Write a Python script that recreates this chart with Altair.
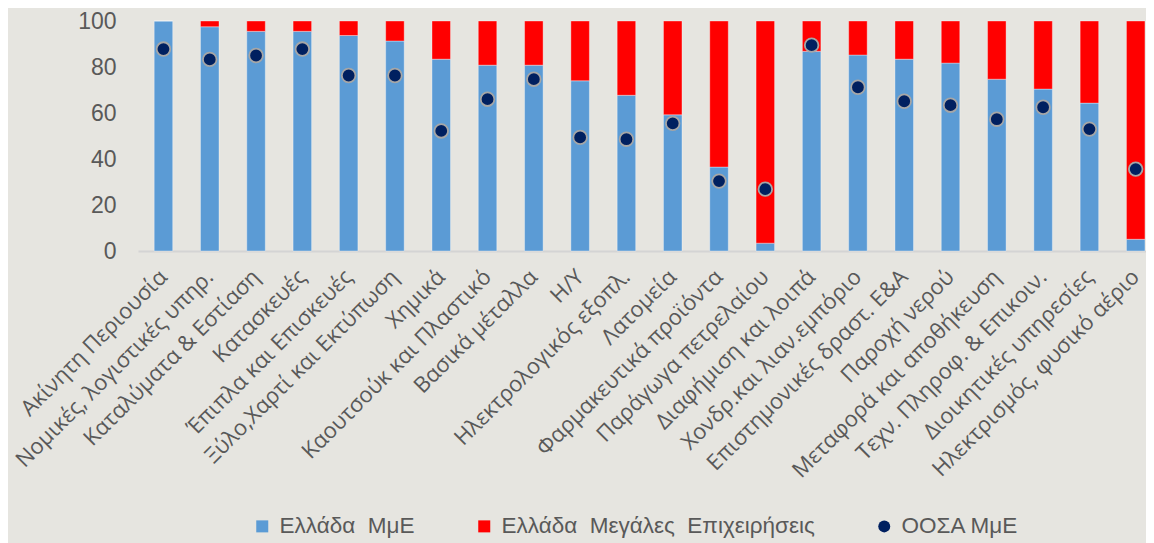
import altair as alt
import pandas as pd

categories = [
    "Ακίνητη Περιουσία",
    "Νομικές, λογιστικές υπηρ.",
    "Καταλύματα & Εστίαση",
    "Κατασκευές",
    "Έπιπλα  και Επισκευές",
    "Ξύλο,Χαρτί και Εκτύπωση",
    "Χημικά",
    "Καουτσούκ και Πλαστικό",
    "Βασικά μέταλλα",
    "Η/Υ",
    "Ηλεκτρολογικός εξοπλ.",
    "Λατομεία",
    "Φαρμακευτικά προϊόντα",
    "Παράγωγα  πετρελαίου",
    "Διαφήμιση και λοιπά",
    "Χονδρ.και λιαν.εμπόριο",
    "Επιστημονικές δραστ.  Ε&Α",
    "Παροχή νερού",
    "Μεταφορά  και αποθήκευση",
    "Τεχν.  Πληροφ. & Επικοιν.",
    "Διοικητικές υπηρεσίες",
    "Ηλεκτρισμός, φυσικό αέριο",
]

greece_sme = [100, 97.5, 95.5, 95.5, 93.7, 91.3, 83.4, 80.8, 80.8, 74.0, 67.7,
              59.2, 36.5, 3.4, 86.8, 85.2, 83.4, 81.7, 74.7, 70.4, 64.3, 5.1]
greece_large = [0, 2.5, 4.5, 4.5, 6.3, 8.7, 16.6, 19.2, 19.2, 26.0, 32.3,
                40.8, 63.5, 96.6, 13.2, 14.8, 16.6, 18.3, 25.3, 29.6, 35.7, 94.9]
oecd_sme = [87.8, 83.3, 85.0, 87.8, 76.3, 76.3, 52.2, 66.0, 74.7, 49.4, 48.6,
            55.5, 30.4, 26.9, 89.5, 71.2, 65.1, 63.4, 57.3, 62.5, 53.0, 35.6]

y_ticks = [0, 20, 40, 60, 80, 100]

S1 = "Ελλάδα\u00a0 ΜμΕ"
S2 = "Ελλάδα\u00a0 Μεγάλες\u00a0 Επιχειρήσεις"
S3 = "ΟΟΣΑ ΜμΕ"
series_names = [S1, S2, S3]

n = len(categories)
bars = pd.DataFrame({
    "cat": categories * 2,
    "value": greece_sme + greece_large,
    "series": [S1] * n + [S2] * n,
    "ord": [0] * n + [1] * n,
})
dots = pd.DataFrame({"cat": categories, "value": oecd_sme, "series": [S3] * n})

GRAY = "#595959"


def make_legend():
    return alt.Legend(
        orient="none",
        legendX=113,
        legendY=494,
        direction="horizontal",
        title=None,
        labelFont="Liberation Sans, Arial",
        labelFontSize=22.5,
        labelColor=GRAY,
        labelLimit=600,
        symbolSize=144,
        symbolStrokeWidth=0,
        symbolOpacity=1,
        labelOffset=6,
        columnPadding=58,
        padding=0,
    )


color = alt.Color(
    "series:N",
    scale=alt.Scale(domain=series_names, range=["#5b9bd5", "#ff0000", "#002060"]),
    legend=make_legend(),
)
shape = alt.Shape(
    "series:N",
    scale=alt.Scale(domain=series_names, range=["square", "square", "circle"]),
    legend=make_legend(),
)

x = alt.X(
    "cat:N",
    sort=categories,
    scale=alt.Scale(paddingInner=0.6, paddingOuter=0.186, align=0.94),
    axis=alt.Axis(
        title=None,
        labelAngle=315,
        labelAlign="right",
        labelBaseline="middle",
        labelFont="Open Sans",
        labelFontSize=22,
        labelColor=GRAY,
        labelPadding=22,
        labelLimit=500,
        ticks=False,
        domainColor="#d4d4d4",
        domainWidth=2,
        grid=False,
    ),
)

y_axis = alt.Axis(
    title=None,
    values=y_ticks,
    grid=False,
    domain=False,
    ticks=False,
    labelFont="Liberation Sans, Arial",
    labelFontSize=23,
    labelColor=GRAY,
    labelPadding=22,
)

bar_layer = alt.Chart(bars).mark_bar(
    stroke="white", strokeOpacity=0.35, strokeWidth=1
).encode(
    x=x,
    y=alt.Y("value:Q", stack="zero", scale=alt.Scale(domain=[0, 100], nice=False), axis=y_axis),
    color=color,
    order=alt.Order("ord:Q"),
)

dot_layer = alt.Chart(dots).mark_point(
    filled=True, size=185, stroke="#a6a6a6", strokeWidth=1.8, opacity=1
).encode(
    x=x,
    y=alt.Y("value:Q"),
    color=color,
    shape=shape,
)

chart = alt.layer(bar_layer, dot_layer).properties(
    width=1008,
    height=230,
    background="#e6e5e0",
    padding={"left": 130, "top": 13, "right": 0, "bottom": 292},
    autosize=alt.AutoSizeParams(type="none"),
).configure_view(stroke=None)

chart.save("out.html", embed_options={"renderer": "svg", "actions": False})
